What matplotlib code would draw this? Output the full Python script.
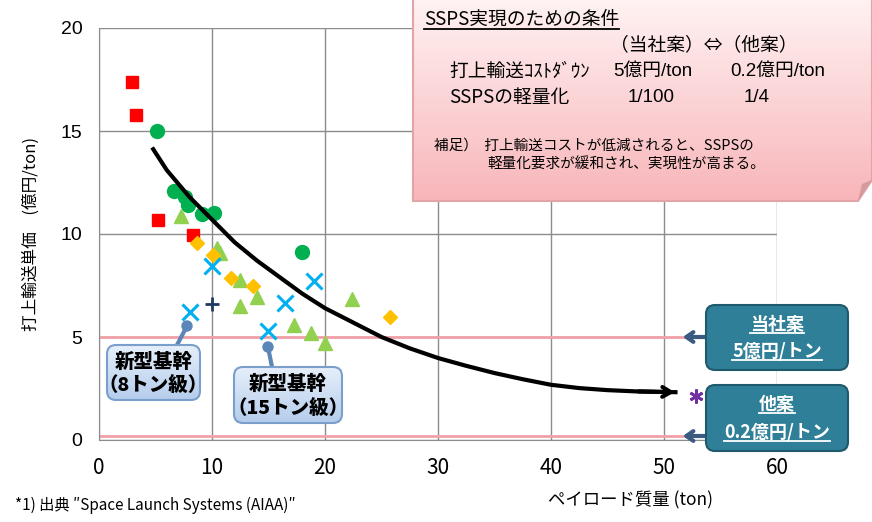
import matplotlib.pyplot as plt
import numpy as np
from matplotlib.patches import FancyBboxPatch, Polygon, Circle

plt.rcParams['font.family'] = ['Noto Sans CJK JP', 'DejaVu Sans']

# ---- data ----
red_x = [2.95, 3.25, 5.25, 8.35]
red_y = [17.4, 15.8, 10.7, 9.95]

circle_x = [5.1, 6.64, 7.6, 7.9, 9.1, 10.2, 18.0]
circle_y = [15.0, 12.1, 11.8, 11.4, 10.97, 11.03, 9.14]

tri_x = [7.3, 10.4, 10.7, 12.48, 13.96, 12.48, 17.26, 18.8, 20.0, 22.4]
tri_y = [10.87, 9.3, 9.06, 7.77, 6.93, 6.5, 5.58, 5.18, 4.72, 6.83]

dia_x = [8.65, 10.1, 11.7, 13.6, 25.75]
dia_y = [9.55, 8.98, 7.88, 7.49, 5.99]

cross_x = [9.97, 8.05, 16.46, 19.03, 14.98]
cross_y = [8.45, 6.23, 6.64, 7.72, 5.3]

plus_x = [9.97]
plus_y = [6.59]

star_x = [52.8]
star_y = [2.15]

# hand drawn trend curve
curve_x = [4.7, 6, 8, 10, 12, 14, 16, 18, 20, 22.5, 25, 27.5, 30, 32.5, 35,
           37.5, 40, 42.5, 45, 47.5, 50, 51.2]
curve_y = [14.2, 13.1, 11.8, 10.7, 9.6, 8.7, 7.9, 7.1, 6.4, 5.7, 5.0, 4.45,
           3.98, 3.6, 3.25, 2.95, 2.68, 2.52, 2.42, 2.36, 2.33, 2.32]

ref_levels = [5, 0.2]   # 当社案 / 他案
ref_end = 51.7

xticks = [0, 10, 20, 30, 40, 50, 60]
yticks = [0, 5, 10, 15, 20]

W, H = 872, 522
fig = plt.figure(figsize=(W / 100, H / 100), dpi=100)
ax = fig.add_axes([99 / W, 82 / H, 678 / W, 412 / H])
ax.set_xlim(0, 60)
ax.set_ylim(0, 20)
ax.set_xticks(xticks)
ax.set_yticks(yticks)
ax.grid(color='#8c8c8c', lw=1)
ax.set_axisbelow(True)
for s in ['top', 'right']:
    ax.spines[s].set_visible(False)
for s in ['left', 'bottom']:
    ax.spines[s].set_color('#8c8c8c')
ax.tick_params(length=0, labelsize=14, colors='black')
ax.tick_params(axis='y', pad=12)
ax.tick_params(axis='x', pad=12)
for lab in ax.get_xticklabels():
    lab.set_family(['Liberation Sans Narrow', 'Noto Sans CJK JP'])
    lab.set_fontsize(15)
for lab in ax.get_yticklabels():
    lab.set_family(['Liberation Sans', 'Noto Sans CJK JP'])

ax.set_ylabel('打上輸送単価　(億円/ton)', fontsize=12, labelpad=15)

# reference lines
for lv in ref_levels:
    ax.plot([0, ref_end], [lv, lv], color='#f2a0a8', lw=2, zorder=2)

# data marks
ax.plot(red_x, red_y, 's', color='#ff0000', ms=9, zorder=4)
ax.plot(circle_x, circle_y, 'o', color='#00b050', ms=10, zorder=4)
ax.plot(tri_x, tri_y, '^', color='#92d050', ms=10, zorder=4)
ax.plot(dia_x, dia_y, 'D', color='#ffc000', ms=7, zorder=4)
ax.plot(cross_x, cross_y, 'x', color='#00b0f0', ms=11, mew=2.2, zorder=4)
ax.plot(plus_x, plus_y, '+', color='#1f3864', ms=10, mew=2, zorder=4)
ax.plot(star_x, star_y, marker=(6, 2, 0), color='#7030a0', ms=10, mew=2,
        ls='none', zorder=4, clip_on=False)

# trend curve with arrow
ax.plot(curve_x, curve_y, color='black', lw=3, zorder=5, solid_capstyle='butt')
ax.annotate('', xy=(curve_x[-1], curve_y[-1]), xytext=(curve_x[-3], curve_y[-3]),
            arrowprops=dict(arrowstyle='->,head_length=0.6,head_width=0.35',
                            lw=3, color='black'), zorder=5)

# ---- overlay in pixel coordinates for boxes and notes ----
ov = fig.add_axes([0, 0, 1, 1], zorder=10)
ov.set_xlim(0, W)
ov.set_ylim(H, 0)
ov.axis('off')
ov.patch.set_alpha(0)


def grad_patch(patch, top, bottom, x0, x1, y0, y1):
    c1 = np.array(plt.matplotlib.colors.to_rgb(top))
    c2 = np.array(plt.matplotlib.colors.to_rgb(bottom))
    t = np.linspace(0, 1, 64)[:, None]
    img = (c1 * (1 - t) + c2 * t)[:, None, :]
    im = ov.imshow(img, extent=(x0, x1, y1, y0), origin='upper',
                   aspect='auto', zorder=patch.get_zorder() - 0.1)
    im.set_clip_path(patch)


# top pink note box with folded corner
box = Polygon([(413, -2), (872, -2), (872, 180), (858, 201), (413, 201)],
              closed=True, facecolor='none', edgecolor='#e2a4a6', lw=1.5, zorder=3)
ov.add_patch(box)
grad_patch(box, '#fff2f2', '#f8b6ba', 413, 872, -2, 201)
ov.add_patch(Polygon([(858, 201), (862, 184), (872, 180)], closed=True,
                     facecolor='#d49a9c', edgecolor='none', zorder=3.5))

latin = ['Liberation Sans', 'Noto Sans CJK JP']
title = ov.text(424, 19, 'SSPS実現のための条件', fontsize=13.5, va='center', zorder=4)
ov.text(610, 45, '（当社案）⇔（他案）', fontsize=13.5, va='center', zorder=4)
ov.text(449, 71, '打上輸送ｺｽﾄﾀﾞｳﾝ', fontsize=13.5, va='center', zorder=4)
ov.text(613, 71, '5億円/ton', fontsize=13.5, va='center', zorder=4, family=latin)
ov.text(730, 71, '0.2億円/ton', fontsize=13.5, va='center', zorder=4, family=latin)
ov.text(449, 98, 'SSPSの軽量化', fontsize=13.5, va='center', zorder=4)
ov.text(628, 98, '1/100', fontsize=13.5, va='center', zorder=4, family=latin)
ov.text(744, 98, '1/4', fontsize=13.5, va='center', zorder=4, family=latin)
ov.text(434, 146, '補足）  打上輸送コストが低減されると、SSPSの', fontsize=10.5,
        va='center', zorder=4)
ov.text(487, 165, '軽量化要求が緩和され、実現性が高まる。', fontsize=10.5,
        va='center', zorder=4)

# blue callouts on the left
for (cx, cy, lx, ly, bx0, by0, bx1, by1, lines) in [
        (187, 326, 177, 345, 107, 345, 200, 400, ['新型基幹', '（8トン級）']),
        (268, 347, 272, 367, 234, 367, 342, 423, ['新型基幹', '（15トン級）'])]:
    ov.plot([cx, lx], [cy, ly], color='#5a86b8', lw=3, zorder=3)
    ov.add_patch(Circle((cx, cy), 5, color='#5a86b8', zorder=3))
    p = FancyBboxPatch((bx0, by0), bx1 - bx0, by1 - by0,
                       boxstyle='round,pad=0,rounding_size=9',
                       facecolor='none', edgecolor='#7b9fcc', lw=1.5, zorder=4)
    ov.add_patch(p)
    grad_patch(p, '#e6effa', '#b5cdec', bx0, bx1, by0, by1)
    hh = (by1 - by0)
    ov.text((bx0 + bx1) / 2, by0 + hh * 0.31, lines[0], fontsize=14,
            fontweight='heavy', ha='center', va='center', zorder=5)
    ov.text((bx0 + bx1) / 2, by0 + hh * 0.74, lines[1], fontsize=14,
            fontweight='heavy', ha='center', va='center', zorder=5)

# teal callouts on the right
underlined = []
for (ay, by0, by1, lines) in [(337, 305, 370, ['当社案', '5億円/トン']),
                              (436, 385, 451, ['他案', '0.2億円/トン'])]:
    ov.annotate('', xy=(680, ay), xytext=(708, ay),
                arrowprops=dict(arrowstyle='->,head_length=0.5,head_width=0.35',
                                lw=3, color='#3a5a80'), zorder=3)
    p = FancyBboxPatch((706, by0), 142, by1 - by0,
                       boxstyle='round,pad=0,rounding_size=9',
                       facecolor='#2f7f98', edgecolor='#1f5a6c', lw=1.5, zorder=4)
    ov.add_patch(p)
    hh = by1 - by0
    t1 = ov.text(777, by0 + hh * 0.3, lines[0], fontsize=13, color='white',
                 fontweight='bold', ha='center', va='center', zorder=5)
    t2 = ov.text(777, by0 + hh * 0.72, lines[1], fontsize=13, color='white',
                 fontweight='bold', ha='center', va='center', zorder=5)
    underlined += [(t1, 'white'), (t2, 'white')]
underlined.append((title, 'black'))

# axis title and footnote
ov.text(630, 500, 'ペイロード質量 (ton)', fontsize=12.5, ha='center', va='center')
ov.text(15, 505, '*1) 出典 ″Space Launch Systems (AIAA)″', fontsize=11,
        va='center')

# underline texts
fig.canvas.draw()
r = fig.canvas.get_renderer()
inv = ov.transData.inverted()
for t, col in underlined:
    bb = t.get_window_extent(r)
    (x0, y0), (x1, y1) = inv.transform([(bb.x0, bb.y0), (bb.x1, bb.y1)])
    ov.plot([x0, x1], [y0 - 1, y0 - 1], color=col, lw=1.3, zorder=6)

fig.savefig('out.png', dpi=100)
